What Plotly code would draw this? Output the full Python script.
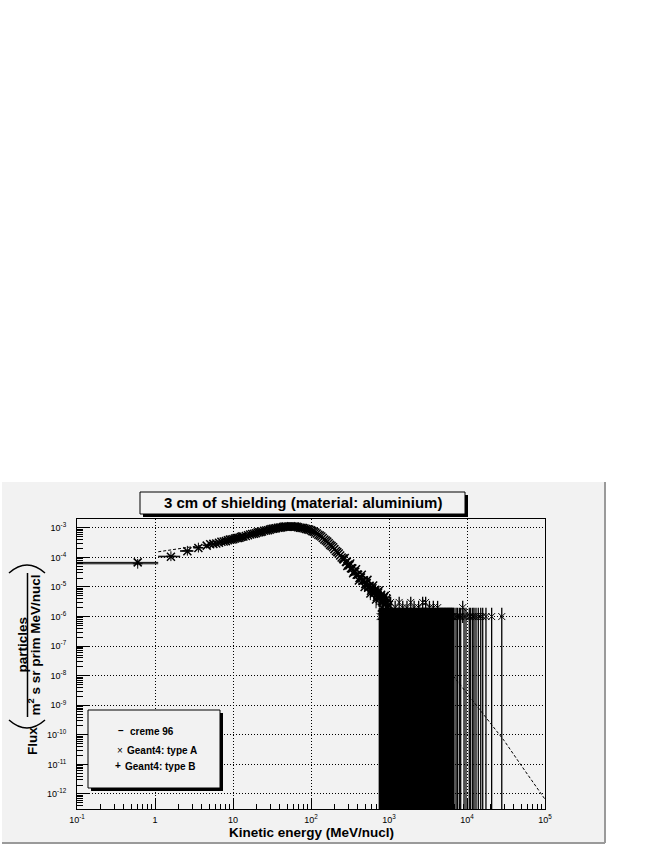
import plotly.graph_objects as go

# ---------------- data ----------------
creme_energy = [1.1, 2, 3, 5, 7, 10, 20, 30, 50, 70, 100, 150, 200, 300, 500, 700,
                1000, 2000, 4000, 7000, 10000, 20000, 30000, 50000, 100000]
creme_flux = [1.55e-4, 1.9e-4, 2.3e-4, 2.8e-4, 3.3e-4, 4.2e-4, 6.8e-4, 8.5e-4, 1.1e-3,
              1.07e-3, 8.5e-4, 4.2e-4, 2.0e-4, 5.6e-5, 1.3e-5, 5.6e-6, 2.4e-6, 3.2e-7,
              4.5e-8, 8.3e-9, 2.5e-9, 2.5e-10, 6.3e-11, 8.9e-12, 6.6e-13]

# Geant4 type A: main band (1 MeV/nucl wide bins)
g4a_energy = [0.6, 1.6, 2.6, 3.6, 4.6, 5.6, 6.6, 7.6, 8.6, 9.6, 10.6, 11.6, 12.6, 13.6,
              15.6, 17.6, 19.6, 21.6, 23.6, 26.6, 29.6, 32.6, 35.6, 39.6, 43.6, 47.6,
              52.6, 57.6, 62.6, 68.6, 75.6, 82.6, 90.6, 99.6, 108.6, 118.6, 129.6, 141.6,
              154.6, 168.6, 183.6, 199.6, 217.6, 236.6, 257.6, 270.6, 280.6, 292.6, 305.6,
              318.6, 332.6, 346.6, 361.6, 377.6, 393.6, 410.6, 428.6, 447.6, 466.6, 486.6,
              507.6, 529.6, 552.6, 576.6, 600.6, 626.6, 653.6, 682.6, 711.6, 742.6, 774.6,
              808.6, 842.6, 879.6, 916.6, 956.6, 996.6]
g4a_flux = [6.8e-5, 1.05e-4, 1.62e-4, 2.09e-4, 2.51e-4, 2.88e-4, 3.16e-4, 3.47e-4, 3.80e-4,
            4.07e-4, 4.37e-4, 4.57e-4, 4.90e-4, 5.13e-4,
            5.62e-4, 6.17e-4, 6.61e-4, 7.08e-4, 7.59e-4, 8.13e-4, 8.71e-4, 9.33e-4, 9.77e-4,
            1.02e-3, 1.07e-3, 1.10e-3,
            1.12e-3, 1.12e-3, 1.10e-3, 1.05e-3, 1.00e-3, 9.55e-4, 8.91e-4, 8.32e-4, 7.41e-4,
            6.46e-4, 5.50e-4, 4.57e-4,
            3.72e-4, 3.02e-4, 2.45e-4, 1.91e-4, 1.51e-4, 1.17e-4, 9.12e-5, 9.5e-5, 7.08e-5,
            5.1e-5, 5.5e-5,
            6.2e-5, 4.27e-5, 2.9e-5, 3.31e-5, 4.0e-5, 2.63e-5, 1.66e-5, 2.09e-5, 2.6e-5,
            1.66e-5, 1.0e-5,
            1.32e-5, 1.74e-5, 1.05e-5, 6.0e-6, 8.3e-6, 1.12e-5, 6.8e-6, 3.8e-6, 5.5e-6,
            7.6e-6, 4.5e-6,
            2.0e-6, 3.6e-6, 5.0e-6, 3.0e-6, 2.0e-6, 2.5e-6]
g4a_err = [8.2e-6, 1.0e-5, 1.27e-5, 1.45e-5, 1.58e-5, 1.70e-5, 1.78e-5, 1.86e-5, 1.95e-5,
           2.02e-5, 2.09e-5, 2.14e-5, 2.21e-5, 2.26e-5,
           2.37e-5, 2.48e-5, 2.57e-5, 2.66e-5, 2.75e-5, 2.85e-5, 2.95e-5, 3.05e-5, 3.13e-5,
           3.19e-5, 3.27e-5, 3.32e-5,
           3.35e-5, 3.35e-5, 3.32e-5, 3.24e-5, 3.16e-5, 3.09e-5, 2.98e-5, 2.88e-5, 2.72e-5,
           2.54e-5, 2.35e-5, 2.14e-5,
           1.93e-5, 1.74e-5, 1.57e-5, 1.38e-5, 1.23e-5, 1.08e-5, 9.5e-6, 9.7e-6, 8.4e-6,
           7.1e-6, 7.4e-6,
           7.9e-6, 6.5e-6, 5.4e-6, 5.8e-6, 6.3e-6, 5.1e-6, 4.1e-6, 4.6e-6, 5.1e-6,
           4.1e-6, 3.2e-6,
           3.6e-6, 4.2e-6, 3.2e-6, 2.4e-6, 2.9e-6, 3.3e-6, 2.6e-6, 1.9e-6, 2.3e-6,
           2.8e-6, 2.1e-6,
           1.4e-6, 1.9e-6, 2.2e-6, 1.7e-6, 1.4e-6, 1.6e-6]

# more bins of the same band, read between the ones above
g4a_band2_energy = [5.1, 6.1, 7.1, 8.1, 9.1, 10.1, 11.1, 12.1, 13.1, 14.6, 16.6, 18.6, 20.6,
                    22.6, 25.1, 28.1, 31.1, 34.1, 37.6, 41.6, 45.6, 50.1, 55.1, 60.1, 65.6,
                    72.1, 79.1, 86.6, 95.1, 104.1, 113.6, 124.1, 135.6, 148.1, 161.6, 176.1,
                    191.6, 208.6, 227.1, 247.1]
g4a_band2_flux = [2.78e-4, 2.96e-4, 3.38e-4, 3.56e-4, 4.0e-4, 4.15e-4, 4.55e-4, 4.66e-4,
                  5.1e-4, 5.3e-4, 6.0e-4, 6.3e-4, 6.95e-4, 7.25e-4, 7.98e-4, 8.32e-4,
                  9.15e-4, 9.45e-4, 1.01e-3, 1.035e-3, 1.10e-3, 1.10e-3, 1.135e-3, 1.10e-3,
                  1.09e-3, 1.015e-3, 9.9e-4, 9.12e-4, 8.72e-4, 7.75e-4, 7.02e-4, 5.88e-4,
                  5.1e-4, 4.05e-4, 3.42e-4, 2.66e-4, 2.21e-4, 1.66e-4, 1.36e-4, 1.0e-4]
g4a_band2_err = [1.67e-5, 1.72e-5, 1.84e-5, 1.89e-5, 2.0e-5, 2.04e-5, 2.13e-5, 2.16e-5,
                 2.26e-5, 2.3e-5, 2.45e-5, 2.51e-5, 2.64e-5, 2.69e-5, 2.82e-5, 2.88e-5,
                 3.02e-5, 3.07e-5, 3.18e-5, 3.22e-5, 3.32e-5, 3.32e-5, 3.37e-5, 3.32e-5,
                 3.3e-5, 3.19e-5, 3.15e-5, 3.02e-5, 2.95e-5, 2.78e-5, 2.65e-5, 2.42e-5,
                 2.26e-5, 2.01e-5, 1.85e-5, 1.63e-5, 1.49e-5, 1.29e-5, 1.17e-5, 1.0e-5]

g4a_band3_energy = [262, 287, 299, 312, 325, 339, 354, 369, 385, 402, 419, 438, 457, 476,
                    497, 518, 541, 564, 588, 613, 640, 668, 697, 727, 758, 791, 825, 861,
                    898, 936, 976]
g4a_band3_flux = [8.5e-5, 7.0e-5, 5.6e-5, 5.4e-5, 4.3e-5, 4.2e-5, 3.3e-5, 3.3e-5, 2.6e-5,
                  2.6e-5, 2.0e-5, 2.1e-5, 1.6e-5, 1.7e-5, 1.25e-5, 1.35e-5, 9.5e-6, 1.1e-5,
                  7.5e-6, 9.0e-6, 6.0e-6, 8.0e-6, 4.5e-6, 6.5e-6, 4.0e-6, 5.5e-6, 3.0e-6,
                  4.5e-6, 2.5e-6, 4.0e-6, 2.0e-6]
g4a_band3_err = [9.2e-6, 8.4e-6, 7.5e-6, 7.3e-6, 6.6e-6, 6.5e-6, 5.7e-6, 5.7e-6, 5.1e-6,
                 5.1e-6, 4.5e-6, 4.6e-6, 4.0e-6, 4.1e-6, 3.5e-6, 3.7e-6, 3.1e-6, 3.3e-6,
                 2.7e-6, 3.0e-6, 2.4e-6, 2.8e-6, 2.1e-6, 2.5e-6, 2.0e-6, 2.3e-6, 1.7e-6,
                 2.1e-6, 1.6e-6, 2.0e-6, 1.4e-6]

# Geant4 type A: low-count bins (1-3 counts) at high energy
g4a_block_energy = [770, 800, 835, 870, 905, 945, 985, 1025, 1070, 1115, 1160, 1210, 1260,
                    1315, 1370, 1430, 1490, 1550, 1615, 1685, 1755, 1830, 1905, 1985, 2070,
                    2155, 2245, 2340, 2440, 2540, 2650, 2760, 2875, 3000, 3125, 3255, 3390,
                    3535, 3680, 3835, 4000, 4165, 4340, 4525, 4715, 4910, 5120, 5330, 5555,
                    5790, 6030, 6285, 6550]
g4a_shoulder_energy = [1050, 1200, 1350, 1500, 1700, 1900, 2100, 2400, 2700, 2950, 3300,
                       3700, 4200]
g4a_shoulder_flux = [3e-6, 2e-6, 3e-6, 2e-6, 2e-6, 3e-6, 2e-6, 2e-6, 3e-6, 3e-6, 2e-6,
                     2e-6, 2e-6]
g4a_shoulder_err = [1.7e-6, 1.4e-6, 1.7e-6, 1.4e-6, 1.4e-6, 1.7e-6, 1.4e-6, 1.4e-6,
                    1.7e-6, 1.7e-6, 1.4e-6, 1.4e-6, 1.4e-6]
g4a_sparse_energy = [6800, 7230, 7520, 7970, 8300, 8810, 9160, 9710, 10700, 11150, 11830,
                     12300, 13040, 13960, 15000, 15900, 17500, 20700, 27900]
g4a_sparse_flux = [1e-6, 1e-6, 1e-6, 1e-6, 1e-6, 2e-6, 1e-6, 1e-6, 1e-6, 1e-6, 1e-6,
                   1e-6, 1e-6, 1e-6, 1e-6, 1e-6, 1e-6, 1e-6, 1e-6]
g4a_sparse_err = [1e-6, 1e-6, 1e-6, 1e-6, 1e-6, 1.4e-6, 1e-6, 1e-6, 1e-6, 1e-6, 1e-6,
                  1e-6, 1e-6, 1e-6, 1e-6, 1e-6, 1e-6, 1e-6, 1e-6]
single_count_flux = 1e-6

# Geant4 type B (visible only at the lowest energies)
g4b_energy = [0.6, 1.6, 2.6, 3.6]
g4b_flux = [6.1e-5, 1.1e-4, 1.68e-4, 2.15e-4]
g4b_err = [7.8e-6, 1.05e-5, 1.3e-5, 1.47e-5]

x_tickvals = [0.1, 1, 10, 100, 1e3, 1e4, 1e5]
x_ticktext = ["10<sup>-1</sup>", "1", "10", "10<sup>2</sup>", "10<sup>3</sup>",
              "10<sup>4</sup>", "10<sup>5</sup>"]
y_exponents = [-12, -11, -10, -9, -8, -7, -6, -5, -4, -3]

title_text = "3 cm of shielding (material: aluminium)"
x_title = "Kinetic energy (MeV/nucl)"

assert len(g4a_energy) == len(g4a_flux) == len(g4a_err)
assert len(g4a_band2_energy) == len(g4a_band2_flux) == len(g4a_band2_err)
assert len(g4a_band3_energy) == len(g4a_band3_flux) == len(g4a_band3_err)

# ---------------- geometry helpers ----------------
W, H = 654, 846
L, R, T, B = 77, 545, 519, 809   # plot area in pixels


def px(x):
    return (x - L) / (R - L)


def py(y):
    return (B - y) / (B - T)


FONT = "Liberation Sans, Arial, Helvetica, sans-serif"
BG = "#f2f2f2"

band_energy = g4a_energy + g4a_band2_energy + g4a_band3_energy
band_flux = g4a_flux + g4a_band2_flux + g4a_band3_flux
band_err = g4a_err + g4a_band2_err + g4a_band3_err

block_flux = [single_count_flux] * len(g4a_block_energy)
block_err = [single_count_flux] * len(g4a_block_energy)
thin_energy = g4a_shoulder_energy + g4a_sparse_energy
thin_flux = g4a_shoulder_flux + g4a_sparse_flux
thin_err = g4a_shoulder_err + g4a_sparse_err

fig = go.Figure()

fig.add_trace(go.Scatter(
    x=creme_energy, y=creme_flux, mode="lines", name="creme 96",
    line=dict(color="black", width=1, dash="3px,2px"), hoverinfo="skip"))

marker_x = dict(symbol="x-thin", size=8, color="black", line=dict(width=1.5, color="black"))
marker_small = dict(symbol="x-thin", size=7, color="black", line=dict(width=1, color="black"))

fig.add_trace(go.Scatter(
    x=g4b_energy, y=g4b_flux, mode="markers", name="Geant4: type B",
    marker=dict(symbol="cross-thin", size=7, color="black", line=dict(width=1, color="black")),
    error_y=dict(type="data", array=g4b_err, width=0, thickness=1, color="black"),
    error_x=dict(type="constant", value=0.5, width=0, thickness=1, color="black"),
    hoverinfo="skip"))

fig.add_trace(go.Scatter(
    x=band_energy, y=band_flux, mode="markers", name="Geant4: type A",
    marker=marker_x,
    error_y=dict(type="data", array=band_err, width=0, thickness=1, color="black"),
    error_x=dict(type="constant", value=0.5, width=0, thickness=1, color="black"),
    hoverinfo="skip"))

fig.add_trace(go.Scatter(
    x=g4a_block_energy, y=block_flux, mode="markers", name="Geant4: type A (1 count)",
    marker=marker_small,
    error_y=dict(type="data", array=block_err, width=0, thickness=3, color="black"),
    hoverinfo="skip"))

fig.add_trace(go.Scatter(
    x=thin_energy, y=thin_flux, mode="markers", name="Geant4: type A (tail)",
    marker=marker_small,
    error_y=dict(type="data", array=thin_err, width=0, thickness=1.3, color="black"),
    hoverinfo="skip"))

axis_common = dict(
    type="log", showline=True, mirror=True, linecolor="black", linewidth=1,
    showgrid=True, gridcolor="black", gridwidth=1, griddash="1px,2px",
    ticks="inside", tickcolor="black", tickwidth=1,
    tickfont=dict(family=FONT, size=9, color="black"),
    zeroline=False, automargin=False, tickmode="array",
)

fig.update_xaxes(
    **axis_common, range=[-1, 5], tickvals=x_tickvals, ticktext=x_ticktext,
    ticklen=10, ticklabelstandoff=2,
    minor=dict(ticks="inside", ticklen=5, tickwidth=1, tickcolor="black", dtick="D1",
               showgrid=False))
fig.update_yaxes(
    **axis_common, range=[-12.51, -2.70],
    tickvals=[10.0 ** e for e in y_exponents],
    ticktext=[f"10<sup>{e}</sup>" for e in y_exponents],
    ticklen=12, ticklabelstandoff=8,
    minor=dict(ticks="inside", ticklen=6, tickwidth=1, tickcolor="black", dtick="D1",
               showgrid=False))

shapes = [
    # ROOT canvas
    dict(type="rect", xref="paper", yref="paper", x0=px(2), x1=px(605), y0=py(843), y1=py(482),
         fillcolor=BG, line=dict(width=0), layer="below"),
    dict(type="line", xref="paper", yref="paper", x0=px(605), x1=px(605), y0=py(843), y1=py(482),
         line=dict(color="#9a9a9a", width=2), layer="below"),
    dict(type="line", xref="paper", yref="paper", x0=px(2), x1=px(605), y0=py(843), y1=py(843),
         line=dict(color="#9a9a9a", width=2), layer="below"),
    # title box with shadow
    dict(type="rect", xref="paper", yref="paper", x0=px(143), x1=px(468), y0=py(517), y1=py(495),
         fillcolor="black", line=dict(width=0), layer="above"),
    dict(type="rect", xref="paper", yref="paper", x0=px(140), x1=px(465), y0=py(514), y1=py(492),
         fillcolor=BG, line=dict(color="black", width=1), layer="above"),
    # legend box with shadow
    dict(type="rect", xref="paper", yref="paper", x0=px(91), x1=px(223), y0=py(791), y1=py(713),
         fillcolor="black", line=dict(width=0), layer="above"),
    dict(type="rect", xref="paper", yref="paper", x0=px(88), x1=px(220), y0=py(788), y1=py(710),
         fillcolor=BG, line=dict(color="black", width=1), layer="above"),
    # y title: fraction bar and parentheses
    dict(type="line", xref="paper", yref="paper", x0=px(27.5), x1=px(27.5), y0=py(717), y1=py(573),
         line=dict(color="black", width=1.5)),
    dict(type="path", xref="paper", yref="paper",
         path=f"M {px(9)},{py(573)} Q {px(27)},{py(557)} {px(45)},{py(573)}",
         line=dict(color="black", width=1.5)),
    dict(type="path", xref="paper", yref="paper",
         path=f"M {px(9)},{py(720)} Q {px(27)},{py(736)} {px(45)},{py(720)}",
         line=dict(color="black", width=1.5)),
]


def ann(text, x, y, size, bold=True, angle=0, xanchor="center", color="black"):
    return dict(text=text, x=px(x), y=py(y), xref="paper", yref="paper", showarrow=False,
                xanchor=xanchor, yanchor="middle", textangle=angle,
                font=dict(family=FONT, size=size, color=color,
                          weight="bold" if bold else "normal"))


annotations = [
    ann(title_text, 303, 503, 15),
    ann(x_title, 311, 832, 13.5),
    ann("Flux", 32, 741, 13.5, angle=-90),
    ann("particles", 21.5, 645, 13.5, angle=-90),
    ann("m<sup>2</sup> s sr prim MeV/nucl", 34.5, 645, 13.5, angle=-90),
    # legend
    ann("–", 120.5, 730.5, 10),
    ann("creme 96", 128, 731, 10, xanchor="left"),
    ann("×", 119.5, 750, 10, bold=False),
    ann("Geant4: type A", 125, 750, 10, xanchor="left"),
    ann("+", 117.5, 765, 10),
    ann("Geant4: type B", 123, 766, 10, xanchor="left"),
]

fig.update_layout(
    width=W, height=H,
    margin=dict(l=L, r=W - R, t=T, b=H - B, pad=0),
    paper_bgcolor="white", plot_bgcolor=BG,
    showlegend=False, hovermode=False,
    font=dict(family=FONT, color="black"),
    shapes=shapes, annotations=annotations,
)

# remove the browser's default 8 px page margin so the figure sits at (0, 0)
fig.write_html("out.html", config={"displayModeBar": False},
               post_script="document.body.style.margin='0';")
